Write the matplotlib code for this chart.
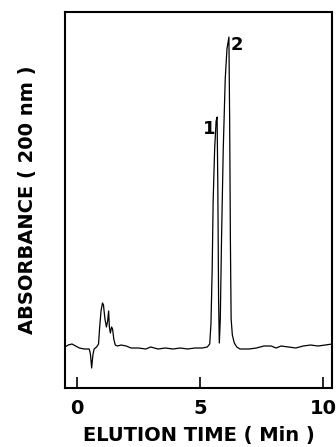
import numpy as np
import matplotlib
matplotlib.use("Agg")
import matplotlib.pyplot as plt

# chromatogram trace (time in min, absorbance in arbitrary units)
time = [-0.49, -0.35, -0.2, -0.05, 0.1, 0.3, 0.5, 0.55, 0.6, 0.65, 0.7, 0.8,
        0.88, 0.92, 0.98, 1.04, 1.08, 1.14, 1.2, 1.25, 1.29, 1.32, 1.36, 1.41,
        1.45, 1.5, 1.56, 1.65, 1.8, 2.0, 2.2, 2.5, 2.8, 3.0, 3.3, 3.6, 3.9,
        4.2, 4.5, 4.8, 5.1, 5.3, 5.4, 5.45, 5.5, 5.54, 5.6, 5.66, 5.70, 5.73,
        5.76, 5.79, 5.83, 5.88, 5.95, 6.03, 6.1, 6.18, 6.21, 6.24, 6.27, 6.32,
        6.4, 6.5, 6.63, 6.8, 7.0, 7.3, 7.6, 7.9, 8.1, 8.3, 8.6, 8.9, 9.2, 9.5,
        9.8, 10.1, 10.37]
absorb = [2, 4, 5, 3, 1, 0, 0, -5, -19, -6, 0, 2,
          5, 20, 38, 46, 44, 30, 22, 28, 38, 22, 16, 22,
          20, 10, 4, 3, 4, 3, 1, 1, 0, 2, 0, 1, 0,
          1, 0, 1, 1, 2, 5, 25, 80, 149, 200, 228, 232, 160,
          50, 6, 30, 110, 200, 270, 300, 312, 230, 110, 30, 14,
          6, 2, 0, 0, 0, 1, 3, 3, 1, 3, 2, 1, 3, 4,
          3, 4, 5]

peak_labels = ["1", "2"]
peak_pos = [(5.36, 220), (6.5, 304)]

fig = plt.figure(figsize=(3.36, 4.47), dpi=100)
ax = fig.add_axes([0.193, 0.132, 0.795, 0.841])

ax.plot(time, absorb, color="black", lw=0.9)

for lab, (x, y) in zip(peak_labels, peak_pos):
    ax.text(x, y, lab, fontsize=13, fontweight="bold", ha="center", va="center")

ax.set_xlim(-0.49, 10.37)
ax.set_ylim(-39, 337)
ax.set_xticks([0, 5, 10])
ax.set_xticklabels(["0", "5", "10"], fontsize=14, fontweight="bold")
ax.set_yticks([])
ax.tick_params(axis="x", direction="in", length=8, width=1.2, pad=8)
for s in ax.spines.values():
    s.set_linewidth(1.5)

ax.set_xlabel("ELUTION TIME ( Min )", fontsize=14, fontweight="bold", labelpad=6)
ax.set_ylabel("ABSORBANCE ( 200 nm )", fontsize=14, fontweight="bold", labelpad=20)

fig.savefig("out.png", dpi=100)
